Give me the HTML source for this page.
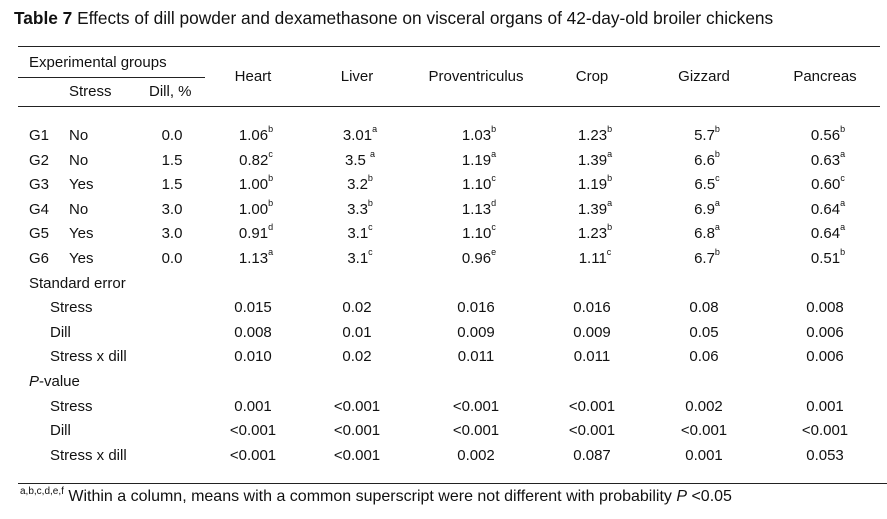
<!DOCTYPE html>
<html><head><meta charset="utf-8">
<style>
body{margin:0;width:887px;height:519px;background:#fff;position:relative;overflow:hidden;font-family:"Liberation Sans",Arial,sans-serif;color:#111;}
.t{position:absolute;font-size:15px;white-space:nowrap;line-height:1;}
.c{transform:translateX(-50%);}
.ln{position:absolute;height:1px;background:#222;}
sup{font-size:9px;vertical-align:top;position:relative;top:-3px;}
</style></head><body>
<div class="t" style="left:14px;top:10px;font-size:17.3px"><b>Table 7</b> Effects of dill powder and dexamethasone on visceral organs of 42-day-old broiler chickens</div>
<div class="ln" style="left:18px;top:46px;width:862px"></div>
<div class="ln" style="left:18px;top:77px;width:187px"></div>
<div class="ln" style="left:18px;top:106px;width:862px"></div>
<div class="ln" style="left:18px;top:483px;width:869px"></div>
<div class="t" style="left:29px;top:55px">Experimental groups</div>
<div class="t" style="left:69px;top:84px">Stress</div>
<div class="t" style="left:149px;top:84px">Dill, %</div>
<div class="t" style="left:20px;top:489px;font-size:16px"><sup style="font-size:10px;top:-2px">a,b,c,d,e,f</sup> Within a column, means with a common superscript were not different with probability <i>P</i> &lt;0.05</div>
<div id="tbl"></div>
<script>
const colNames=["Heart","Liver","Proventriculus","Crop","Gizzard","Pancreas"];
const colX=[253,357,476,592,704,825];
const groups=["G1","G2","G3","G4","G5","G6"];
const stress=["No","No","Yes","No","Yes","Yes"];
const dill=["0.0","1.5","1.5","3.0","3.0","0.0"];
const means=[
["1.06|b","3.01|a","1.03|b","1.23|b","5.7|b","0.56|b"],
["0.82|c","3.5 |a","1.19|a","1.39|a","6.6|b","0.63|a"],
["1.00|b","3.2|b","1.10|c","1.19|b","6.5|c","0.60|c"],
["1.00|b","3.3|b","1.13|d","1.39|a","6.9|a","0.64|a"],
["0.91|d","3.1|c","1.10|c","1.23|b","6.8|a","0.64|a"],
["1.13|a","3.1|c","0.96|e","1.11|c","6.7|b","0.51|b"]];
const seLabels=["Stress","Dill","Stress x dill"];
const se=[["0.015","0.02","0.016","0.016","0.08","0.008"],["0.008","0.01","0.009","0.009","0.05","0.006"],["0.010","0.02","0.011","0.011","0.06","0.006"]];
const pv=[["0.001","<0.001","<0.001","<0.001","0.002","0.001"],["<0.001","<0.001","<0.001","<0.001","<0.001","<0.001"],["<0.001","<0.001","0.002","0.087","0.001","0.053"]];
const root=document.getElementById('tbl');
const rowY=i=>128+i*24.6;
function txt(html,x,y,center,name){
 const d=document.createElement('div');
 d.className='t'+(center?' c':'');
 d.style.left=x+'px';d.style.top=y+'px';d.innerHTML=html;
 
 
 root.appendChild(d);
}
colNames.forEach((n,j)=>txt(n,colX[j],69,true,'column-header-'+n.toLowerCase()));
groups.forEach((g,i)=>{
 const y=rowY(i);
 txt(g,29,y,false,'group-label');
 txt(stress[i],69,y,false,'stress-value');
 txt(dill[i],172,y,true,'dill-value');
 means[i].forEach((m,j)=>{const [v,s]=m.split('|');txt(v+'<sup>'+s+'</sup>',colX[j]+3,y,true,'mean-cell');});
});
txt('Standard error',29,rowY(6),false,'standard-error-label');
seLabels.forEach((l,k)=>{const y=rowY(7+k);txt(l,50,y,false,'se-row-label');se[k].forEach((v,j)=>txt(v,colX[j],y,true,'se-cell'));});
txt('<i>P</i>-value',29,rowY(10),false,'p-value-label');
seLabels.forEach((l,k)=>{const y=rowY(11+k);txt(l,50,y,false,'p-row-label');pv[k].forEach((v,j)=>txt(v.replace('<','&lt;'),colX[j],y,true,'p-cell'));});
</script>
</body></html>
